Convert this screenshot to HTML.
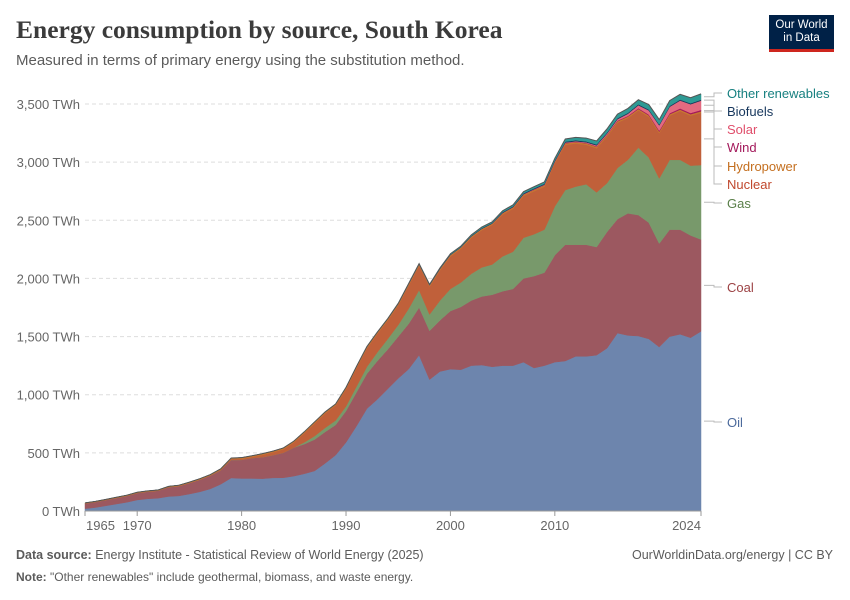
<!DOCTYPE html>
<html><head><meta charset="utf-8">
<style>
body{margin:0;background:#fff;font-family:"Liberation Sans",sans-serif;}
#wrap{position:relative;width:850px;height:600px;overflow:hidden;}
.title{position:absolute;left:16px;top:15px;font-family:"Liberation Serif",serif;font-weight:bold;font-size:25.5px;color:#3b3b3b;}
.sub{position:absolute;left:16px;top:52px;font-size:15px;color:#5b5b5b;}
.logo{position:absolute;left:769px;top:15px;width:65px;height:37px;background:#002147;color:#fff;font-size:11.5px;text-align:center;line-height:13px;padding-top:4px;box-sizing:border-box;border-bottom:3px solid #ce261e;}
.foot{position:absolute;font-size:12.5px;color:#5b5b5b;}
</style></head><body>
<div id="wrap">
<div class="title">Energy consumption by source, South Korea</div>
<div class="sub">Measured in terms of primary energy using the substitution method.</div>
<div class="logo">Our World<br>in Data</div>
<svg id="chart" width="850" height="600" style="position:absolute;left:0;top:0"></svg>
<div class="foot" style="left:16px;top:548px"><b>Data source:</b> Energy Institute - Statistical Review of World Energy (2025)</div>
<div class="foot" style="right:17px;top:548px">OurWorldinData.org/energy | CC BY</div>
<div class="foot" style="left:16px;top:570px;font-size:12px"><b>Note:</b> "Other renewables" include geothermal, biomass, and waste energy.</div>
</div>
<script>
const years=[];for(let y=1965;y<=2024;y++)years.push(y);
const oil=[20,30,45,60,75,95,105,110,125,130,146,165,190,230,284,280,280,278,285,286,300,320,345,410,480,590,730,880,960,1050,1140,1220,1340,1130,1200,1220,1215,1250,1255,1240,1250,1250,1280,1230,1250,1280,1290,1330,1330,1340,1400,1530,1510,1505,1480,1410,1500,1520,1490,1545];
const coal=[45,48,50,52,55,60,62,65,80,85,95,105,115,120,155,160,175,185,195,215,245,255,270,270,260,270,290,300,330,340,360,390,410,420,440,500,540,560,590,620,640,660,720,790,800,920,1000,960,960,930,1000,980,1050,1040,1000,890,920,900,880,790];
const gas=[0,0,0,0,0,0,0,0,0,0,0,0,0,0,0,0,0,0,0,0,0,15,30,35,38,40,50,60,75,90,100,130,150,140,170,190,210,230,250,260,300,320,350,360,370,420,470,500,520,470,420,440,460,580,560,560,600,600,600,640];
const nuclear=[0,0,0,0,0,0,0,0,0,0,0,0,0,5,8,10,10,20,25,30,45,80,110,125,130,150,160,160,160,160,170,200,210,240,260,280,290,310,320,340,360,370,360,370,370,370,390,370,340,380,400,390,360,320,350,390,380,420,430,450];
const hydro=[5,5,5,6,6,6,6,6,7,7,7,8,8,8,9,9,10,10,10,11,11,11,12,12,12,12,12,12,12,12,12,12,12,12,12,12,12,12,12,12,12,12,12,12,12,12,12,12,12,12,12,12,12,12,12,12,12,12,12,12];
const wind=[0,0,0,0,0,0,0,0,0,0,0,0,0,0,0,0,0,0,0,0,0,0,0,0,0,0,0,0,0,0,0,0,0,0,0,0,0,0,0,0,1,1,1,2,2,3,3,3,3,4,4,5,6,7,8,9,9,10,11,12];
const solar=[0,0,0,0,0,0,0,0,0,0,0,0,0,0,0,0,0,0,0,0,0,0,0,0,0,0,0,0,0,0,0,0,0,0,0,0,0,0,0,0,1,1,2,3,3,3,4,5,6,8,10,13,18,25,35,45,55,68,75,80];
const biofuels=[0,0,0,0,0,0,0,0,0,0,0,0,0,0,0,0,0,0,0,0,0,0,0,0,0,0,0,0,0,0,0,1,1,2,2,3,3,4,5,5,6,6,7,7,7,7,8,8,8,8,8,8,8,8,8,8,8,8,8,8];
const other=[0,0,0,0,0,0,0,0,0,0,0,0,0,0,0,0,0,0,0,0,0,0,0,0,0,1,1,2,2,3,4,4,5,5,6,7,8,9,10,10,12,13,14,15,16,18,22,25,28,30,32,35,38,40,42,42,45,45,48,50];
const seriesNames=["Oil","Coal","Gas","Nuclear","Hydropower","Wind","Solar","Biofuels","Other renewables"];
const seriesData=[oil,coal,gas,nuclear,hydro,wind,solar,biofuels,other];
const colors=["#6d85ad","#9c5860","#78996b","#c0603a","#c7782f","#a3195b","#e36a80","#16365c","#2e9a94"];
const labelColors=["#4c6a9c","#9c4244","#5a7f49","#c0482e","#c46f1f","#a3195b","#e04e6b","#16365c","#178080"];
const yTicks=[0,500,1000,1500,2000,2500,3000,3500];
const yTickLabels=["0 TWh","500 TWh","1,000 TWh","1,500 TWh","2,000 TWh","2,500 TWh","3,000 TWh","3,500 TWh"];
const xTicks=[1965,1970,1980,1990,2000,2010,2024];

const svg=document.getElementById('chart');const NS='http://www.w3.org/2000/svg';
const X0=85,X1=701,Y0=511,YT=104;
const x=y=>X0+(y-1965)/(2024-1965)*(X1-X0);
const yv=v=>Y0-v/3500*(Y0-YT);
function mk(t,a){const e=document.createElementNS(NS,t);for(const k in a)e.setAttribute(k,a[k]);svg.appendChild(e);return e;}
yTicks.forEach((t,i)=>{
 if(t>0){const g=mk('line',{x1:X0,x2:X1,y1:yv(t),y2:yv(t),stroke:'#ddd','stroke-dasharray':'4,3'});
 
 }
 const l=mk('text',{x:80,y:yv(t)+5,'text-anchor':'end','font-size':13,fill:'#666','font-family':'Liberation Sans'});
 l.textContent=yTickLabels[i];
 
 
});
let base=years.map(()=>0);
seriesData.forEach((s,si)=>{
 const top=base.map((b,i)=>b+s[i]);
 let d='M'+years.map((yr,i)=>x(yr)+','+yv(top[i])).join('L');
 for(let i=years.length-1;i>=0;i--)d+='L'+x(years[i])+','+yv(base[i]);
 d+='Z';
 const p=mk('path',{d:d,fill:colors[si],stroke:colors[si],'stroke-width':0.5});
 
 
 base=top;
});
const outline=mk('path',{d:'M'+years.map((yr,i)=>x(yr)+','+yv(base[i])).join('L'),fill:'none',stroke:'#555','stroke-width':1});


mk('line',{x1:X0,x2:X1,y1:Y0,y2:Y0,stroke:'#999'});
xTicks.forEach(t=>{
 mk('line',{x1:x(t),x2:x(t),y1:Y0,y2:Y0+5,stroke:'#999'});
 const a=t===1965?'start':(t===2024?'end':'middle');
 const l=mk('text',{x:t===1965?x(t)+1:x(t),y:530,'text-anchor':a,'font-size':13,fill:'#666','font-family':'Liberation Sans'});
 l.textContent=t;
 
 
});
const labelY=[422,287,203,184,166,147,129,111,93];
let cum=0;const last=years.length-1;
seriesData.forEach((s,si)=>{
 const mid=yv(cum+s[last]/2);cum+=s[last];
 const ly=labelY[si];
 mk('path',{d:`M${X1+3},${mid}H714V${ly}H722`,fill:'none',stroke:'#bbb','stroke-width':1});
 const t=mk('text',{x:727,y:ly+5,'font-size':13,fill:labelColors[si],'font-family':'Liberation Sans'});
 t.textContent=seriesNames[si];
 
 
});
</script>
</body></html>
